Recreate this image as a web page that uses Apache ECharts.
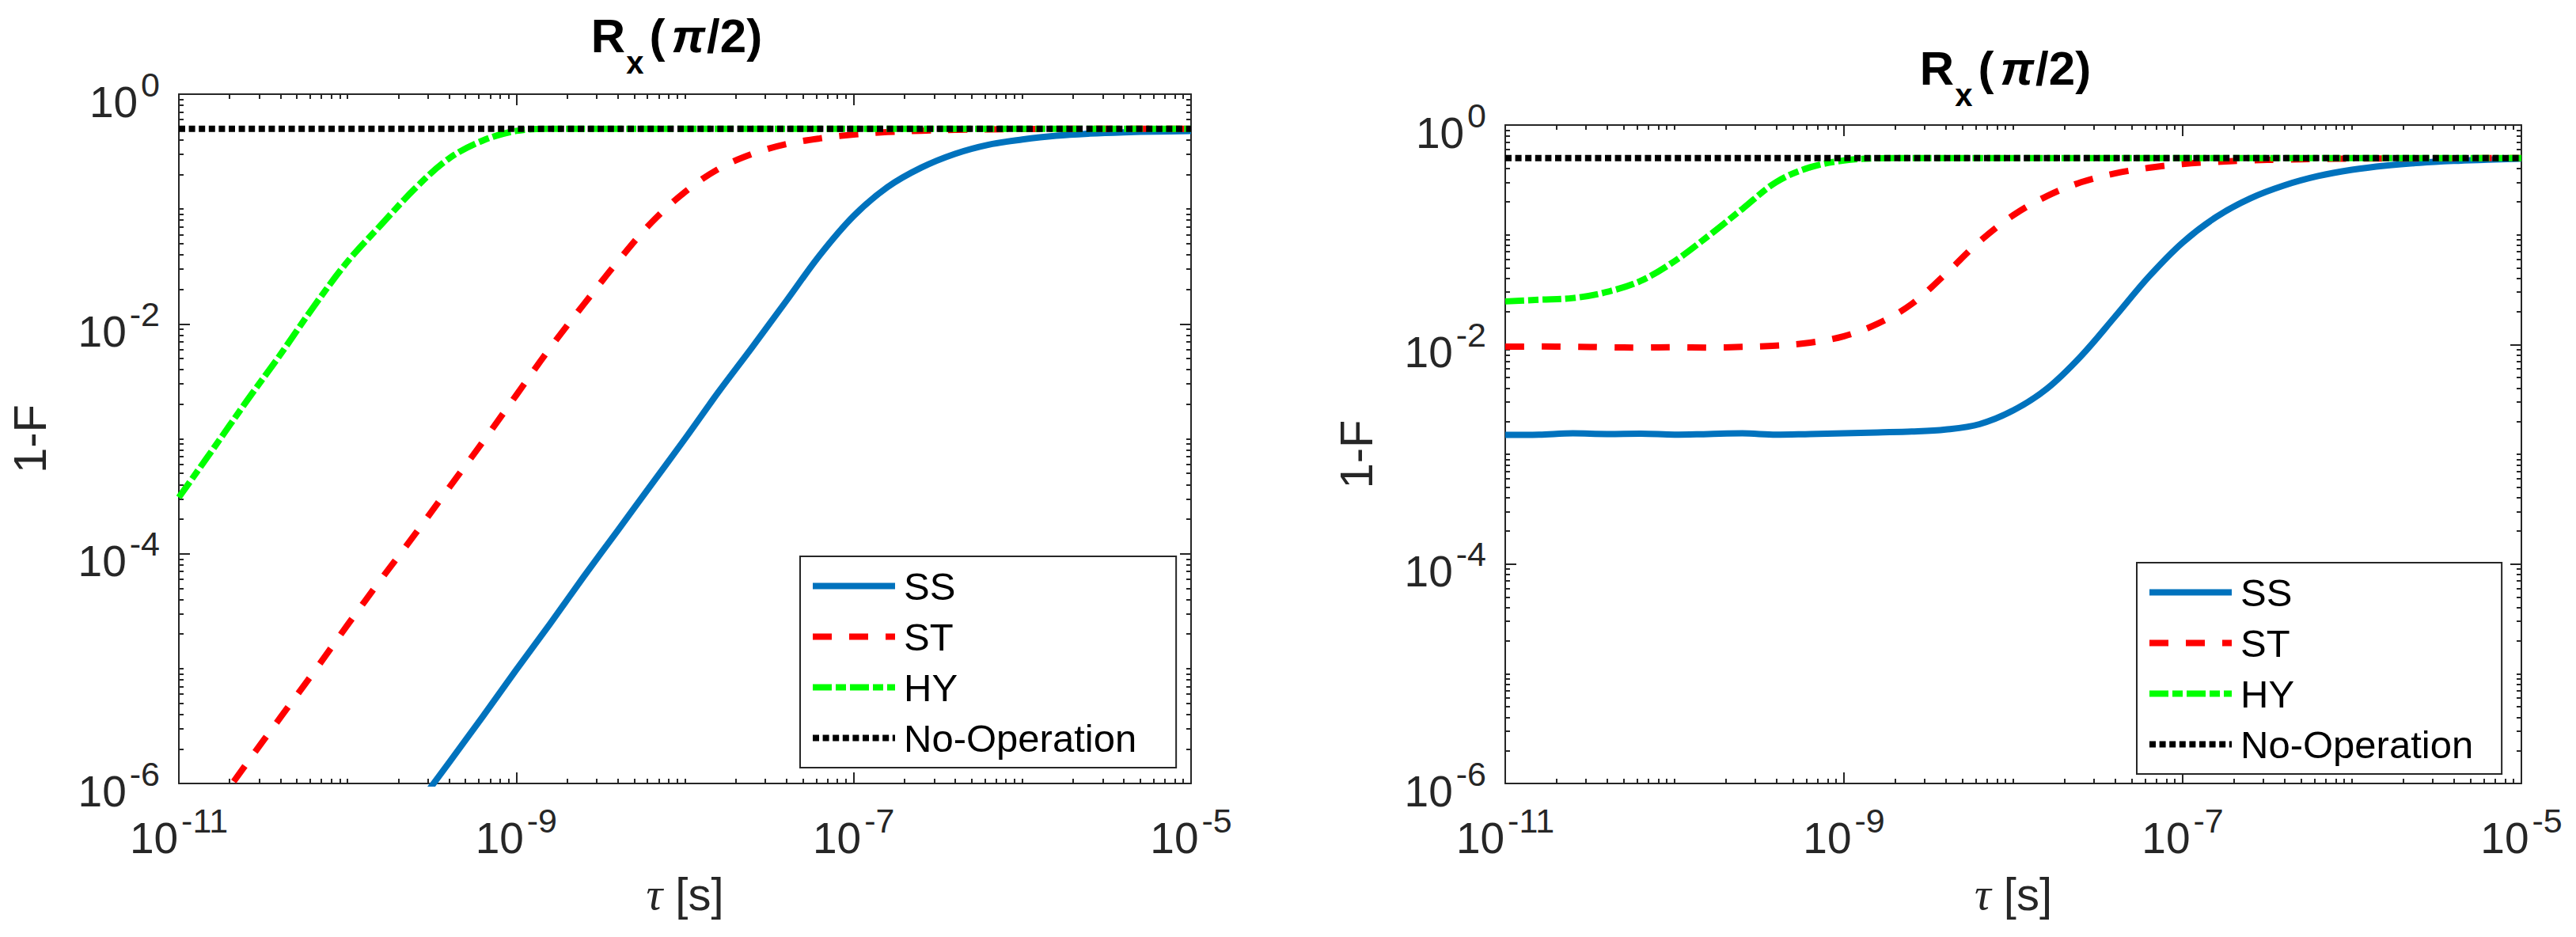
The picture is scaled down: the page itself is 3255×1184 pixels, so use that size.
<!DOCTYPE html>
<html>
<head>
<meta charset="utf-8">
<script src="https://cdn.jsdelivr.net/npm/echarts@6/dist/echarts.min.js"></script>
<style>
html,body{margin:0;padding:0;background:#fff;}
#chart{width:3255px;height:1184px;}
</style>
</head>
<body>
<div id="chart"></div>
<script>
// ---------------- data ----------------
// tau grid [s], shared by both panels (steps of 0.2 decade)
const tauGrid = [
  1e-11, 1.585e-11, 2.512e-11, 3.981e-11, 6.310e-11,
  1e-10, 1.585e-10, 2.512e-10, 3.981e-10, 6.310e-10,
  1e-9,  1.585e-9,  2.512e-9,  3.981e-9,  6.310e-9,
  1e-8,  1.585e-8,  2.512e-8,  3.981e-8,  6.310e-8,
  1e-7,  1.585e-7,  2.512e-7,  3.981e-7,  6.310e-7,
  1e-6,  1.585e-6,  2.512e-6,  3.981e-6,  6.310e-6,
  1e-5
];
// left panel, 1-F
const leftSS = [null, null, null, null, null, null, null,
  6.03e-7, 1.51e-6, 3.80e-6, 9.77e-6, 2.45e-5, 6.31e-5, 1.58e-4, 3.98e-4, 1.00e-3,
  2.57e-3, 6.31e-3, 1.58e-2, 3.98e-2, 8.71e-2, 0.155, 0.229, 0.302, 0.363, 0.403,
  0.435, 0.454, 0.466, 0.473, 0.478];
const leftST = [null,
  5.75e-7, 1.48e-6, 3.72e-6, 9.33e-6, 2.40e-5, 6.03e-5, 1.48e-4, 3.72e-4, 9.33e-4, 2.40e-3,
  6.17e-3, 1.48e-2, 3.47e-2, 7.59e-2, 0.141, 0.224, 0.302, 0.367, 0.412, 0.445,
  0.468, 0.481, 0.490, 0.494, 0.497, 0.498, 0.499, 0.499, 0.5, 0.5];
const leftHY = [3.09e-4, 8.04e-4, 2.11e-3, 5.37e-3, 1.42e-2, 3.49e-2, 7.33e-2, 0.151, 0.275, 0.394,
  0.479, 0.499, 0.5, 0.5, 0.5, 0.5, 0.5, 0.5, 0.5, 0.5,
  0.5, 0.5, 0.5, 0.5, 0.5, 0.5, 0.5, 0.5, 0.5, 0.5, 0.5];
// right panel, 1-F
const rightSS = [1.50e-3, 1.51e-3, 1.55e-3, 1.53e-3, 1.54e-3, 1.51e-3, 1.53e-3, 1.55e-3, 1.51e-3, 1.53e-3,
  1.55e-3, 1.58e-3, 1.61e-3, 1.68e-3, 1.88e-3, 2.51e-3, 3.98e-3, 7.85e-3, 1.79e-2, 4.15e-2,
  8.51e-2, 0.146, 0.215, 0.282, 0.343, 0.391, 0.427, 0.453, 0.471, 0.483, 0.494];
const rightST = [9.57e-3, 9.59e-3, 9.55e-3, 9.44e-3, 9.38e-3, 9.44e-3, 9.38e-3, 9.51e-3, 9.77e-3, 1.04e-2,
  1.19e-2, 1.55e-2, 2.34e-2, 4.39e-2, 8.67e-2, 0.151, 0.226, 0.301, 0.362, 0.408,
  0.442, 0.462, 0.476, 0.485, 0.491, 0.494, 0.496, 0.497, 0.498, 0.499, 0.5];
const rightHY = [2.47e-2, 2.56e-2, 2.65e-2, 3.01e-2, 3.80e-2, 5.75e-2, 9.77e-2, 0.172, 0.302, 0.412,
  0.476, 0.498, 0.5, 0.5, 0.5, 0.5, 0.5, 0.5, 0.5, 0.5,
  0.5, 0.5, 0.5, 0.5, 0.5, 0.5, 0.5, 0.5, 0.5, 0.5, 0.5];
// no-operation reference line
const noOpTau = [1e-11, 1e-5];
const noOpVal = [0.5, 0.5];

const seriesNames = ['SS', 'ST', 'HY', 'No-Operation'];
const xTickExponents = [-11, -9, -7, -5];   // labelled x ticks (10^n)
const yTickExponents = [-6, -4, -2, 0];     // labelled y ticks (10^n)
const titleText = '{r|R}{x|x}{p|(}{pi|π}{p|/2)}';
const xName = '{i|τ} [s]';
const yName = '1-F';

// ---------------- styling ----------------
const FONT = "'Liberation Sans', Arial, Helvetica, sans-serif";
const AX = '#262626';
const LW = 8;
const styles = {
  SS: { color: '#0072BD', type: 'solid' },
  ST: { color: '#FF0000', type: [24, 22] },
  HY: { color: '#00FF00', type: [24, 5, 13, 5] },
  'No-Operation': { color: '#000000', type: [8, 4.6] }
};

const tickRich = {
  b: { fontSize: 55, lineHeight: 71, verticalAlign: 'bottom', color: AX, fontFamily: FONT },
  s: { fontSize: 43, lineHeight: 43, verticalAlign: 'top', color: AX, fontFamily: FONT, padding: [0, 0, 0, 4] }
};

const xExpMin = xTickExponents[0];
const xExpSpan = xTickExponents[xTickExponents.length - 1] - xExpMin;
const xExpStep = xTickExponents[1] - xTickExponents[0];
const yExpMin = yTickExponents[0];
const yExpMax = yTickExponents[yTickExponents.length - 1];
const yExpStep = yTickExponents[1] - yTickExponents[0];

function logAxis(gridIndex, position, isX) {
  return {
    type: 'log', logBase: 10, gridIndex: gridIndex, position: position,
    min: isX ? Math.pow(10, xExpMin) : Math.pow(10, yExpMin),
    max: isX ? Math.pow(10, xExpMin + xExpSpan) : Math.pow(10, yExpMax),
    axisLine: { show: true, onZero: false, lineStyle: { color: AX, width: 2 } },
    axisTick: { show: true, inside: true, length: 6, lineStyle: { color: AX, width: 2 } },
    minorTick: { show: true, splitNumber: 9, length: 6, lineStyle: { color: AX, width: 2 } },
    axisLabel: { show: false },
    splitLine: { show: false },
    minorSplitLine: { show: false },
    silent: true
  };
}
function majorXAxis(gridIndex, position, withLabels) {
  const a = {
    type: 'value', gridIndex: gridIndex, position: position,
    min: 0, max: xExpSpan, interval: xExpStep,
    axisLine: { show: false, onZero: false },
    axisTick: { show: true, inside: true, length: 14, lineStyle: { color: AX, width: 2 } },
    axisLabel: { show: false },
    splitLine: { show: false },
    silent: true
  };
  if (withLabels) {
    a.axisLabel = {
      show: true, margin: 25,
      formatter: function (v) { return '{b|10}{s|' + (v + xExpMin) + '}'; },
      rich: tickRich
    };
    a.name = xName;
    a.nameLocation = 'middle';
    a.nameGap = 110;
    a.nameTextStyle = {
      fontSize: 58, color: AX, fontFamily: FONT,
      rich: { i: { fontSize: 58, fontStyle: 'italic', fontFamily: "'Liberation Serif', 'DejaVu Serif', serif", color: AX } }
    };
  }
  return a;
}
function majorYAxis(gridIndex, position, withLabels) {
  const a = {
    type: 'value', gridIndex: gridIndex, position: position,
    min: yExpMin, max: yExpMax, interval: yExpStep,
    axisLine: { show: false, onZero: false },
    axisTick: { show: true, inside: true, length: 14, lineStyle: { color: AX, width: 2 } },
    axisLabel: { show: false },
    splitLine: { show: false },
    silent: true
  };
  if (withLabels) {
    a.axisLabel = {
      show: true, margin: 24, padding: [3, 0, 0, 0],
      formatter: function (v) { return '{b|10}{s|' + v + '}'; },
      rich: tickRich
    };
    a.name = yName;
    a.nameLocation = 'middle';
    a.nameGap = 160;
    a.nameTextStyle = { fontSize: 58, color: AX, fontFamily: FONT };
  }
  return a;
}

const grids = [
  { left: 226, top: 119, width: 1279, height: 871 },
  { left: 1902, top: 158, width: 1284, height: 832 }
];
const titlePos = [{ x: 855, top: 15 }, { x: 2534, top: 56 }];
const legendPos = [{ left: 1011, top: 703, padRight: 50 }, { left: 2700, top: 711, padRight: 36 }];
const panelData = [
  { SS: leftSS, ST: leftST, HY: leftHY },
  { SS: rightSS, ST: rightST, HY: rightHY }
];

const xAxes = [], yAxes = [], series = [], titles = [], legends = [];
grids.forEach(function (g, gi) {
  xAxes.push(logAxis(gi, 'bottom', true), majorXAxis(gi, 'bottom', true),
             logAxis(gi, 'top', true), majorXAxis(gi, 'top', false));
  yAxes.push(logAxis(gi, 'left', false), majorYAxis(gi, 'left', true),
             logAxis(gi, 'right', false), majorYAxis(gi, 'right', false));
  const axIdx = gi * 4;
  ['SS', 'ST', 'HY'].forEach(function (name) {
    const vals = panelData[gi][name];
    series.push({
      name: name, type: 'line', xAxisIndex: axIdx, yAxisIndex: axIdx,
      data: tauGrid.map(function (t, i) { return [t, vals[i]]; }).filter(function (d) { return d[1] != null; }),
      symbol: 'none', showSymbol: false, smooth: 0.35, clip: true,
      lineStyle: { color: styles[name].color, width: LW, type: styles[name].type, cap: 'butt', join: 'round' },
      itemStyle: { color: styles[name].color },
      silent: true, animation: false
    });
  });
  series.push({
    name: 'No-Operation', type: 'line', xAxisIndex: axIdx, yAxisIndex: axIdx,
    data: noOpTau.map(function (t, i) { return [t, noOpVal[i]]; }),
    symbol: 'none', showSymbol: false, clip: true,
    lineStyle: { color: styles['No-Operation'].color, width: LW, type: styles['No-Operation'].type, cap: 'butt' },
    itemStyle: { color: styles['No-Operation'].color },
    silent: true, animation: false
  });
  titles.push({
    text: titleText, left: titlePos[gi].x, top: titlePos[gi].top, textAlign: 'center', padding: 0,
    textStyle: {
      fontFamily: FONT, color: '#000',
      rich: {
        r: { fontSize: 60, fontWeight: 'bold', lineHeight: 60, verticalAlign: 'top', color: '#000', fontFamily: FONT },
        x: { fontSize: 40, fontWeight: 'bold', lineHeight: 84, verticalAlign: 'bottom', padding: [0, 7, 0, 1], color: '#000', fontFamily: FONT },
        p: { fontSize: 60, fontWeight: 'bold', lineHeight: 60, verticalAlign: 'top', color: '#000', fontFamily: FONT },
        pi: { fontSize: 60, fontWeight: 'bold', fontStyle: 'italic', lineHeight: 60, verticalAlign: 'top', color: '#000', fontFamily: FONT, padding: [0, 2, 0, 8] }
      }
    }
  });
  legends.push({
    left: legendPos[gi].left, top: legendPos[gi].top, orient: 'vertical',
    data: seriesNames, selectedMode: false,
    itemWidth: 104, itemHeight: 16, itemGap: 15,
    padding: [13, legendPos[gi].padRight, 13, 12],
    borderColor: AX, borderWidth: 2, borderRadius: 0, backgroundColor: '#ffffff',
    lineStyle: { width: LW },
    itemStyle: { opacity: 0, borderWidth: 0 },
    textStyle: { fontSize: 49, lineHeight: 48, color: '#000', fontFamily: FONT, padding: [0, 0, 0, 6] }
  });
});

const chart = echarts.init(document.getElementById('chart'), null, { renderer: 'svg', width: 3255, height: 1184 });
chart.setOption({
  animation: false,
  backgroundColor: '#ffffff',
  textStyle: { fontFamily: FONT },
  title: titles,
  legend: legends,
  grid: grids.map(function (g) { return Object.assign({ containLabel: false, outerBoundsMode: 'none' }, g); }),
  xAxis: xAxes,
  yAxis: yAxes,
  series: series
});
</script>
</body>
</html>
